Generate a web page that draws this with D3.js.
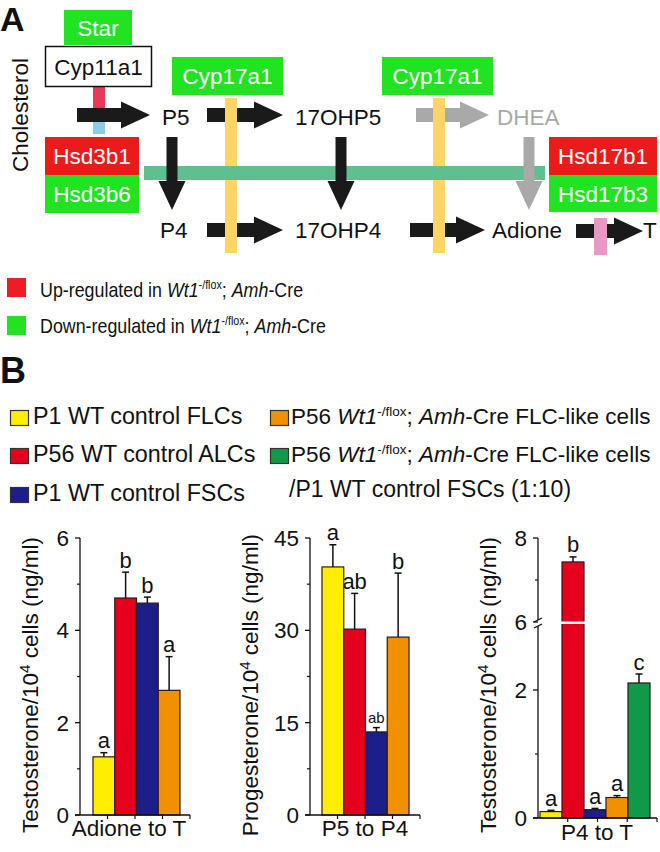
<!DOCTYPE html>
<html><head><meta charset="utf-8">
<script src="https://cdn.jsdelivr.net/npm/d3@7"></script>
<style>body{margin:0;background:#fff} svg{display:block}</style>
</head><body>
<svg id="c" width="660" height="852"></svg>
<script>
// ---------- DATA ----------
const groups = ["P1 WT control FLCs","P56 WT control ALCs","P1 WT control FSCs",
  "P56 Wt1-/flox; Amh-Cre FLC-like cells","P56 Wt1-/flox; Amh-Cre FLC-like cells /P1 WT control FSCs (1:10)"];
const groupColors = ["#ffee00","#e5001e","#1c1f8a","#f29100","#11994a"];

const adioneToT = [1.26, 4.70, 4.59, 2.70];
const adioneToTErr = [0.09, 0.56, 0.13, 0.73];
const adioneToTLetters = ["a","b","b","a"];

const p5ToP4 = [40.3, 30.2, 13.5, 28.9];
const p5ToP4Err = [3.6, 5.8, 0.7, 10.4];
const p5ToP4Letters = ["a","ab","ab","b"];

const p4ToT = [0.10, 7.43, 0.13, 0.32, 2.11];
const p4ToTErr = [0.02, 0.12, 0.02, 0.03, 0.14];
const p4ToTLetters = ["a","b","a","a","c"];

const ticksAdione = [0,2,4,6], minorAdione = [1,3,5];
const ticksP5 = [0,15,30,45], minorP5 = [7.5,22.5,37.5];
const ticksP4 = [0,2,6,8], minorP4 = [1,7];

const pathwayTop = ["P5","17OHP5","DHEA"];
const pathwayBottom = ["P4","17OHP4","Adione","T"];
const legendA = ["Up-regulated in ","Down-regulated in "];

// ---------- DRAW ----------
const svg = d3.select("#c");
const FONT = "Liberation Sans, Arial, Helvetica, sans-serif";
const FS = 22.5;
const GREEN = "#22e322", RED = "#ec1b1b";

function txt(x, y, s, opt = {}) {
  return svg.append("text").attr("x", x).attr("y", y).text(s)
    .attr("font-family", FONT).attr("font-size", opt.size || FS)
    .attr("fill", opt.fill || "#111").attr("text-anchor", opt.anchor || "start")
    .attr("font-weight", opt.weight || "normal");
}
function hArrow(x1, x2, y, color) {
  const sh = 7, hh = 13.5, hl = 29;
  svg.append("path").attr("d",
    `M${x1},${y-sh}L${x2-hl},${y-sh}L${x2-hl},${y-hh}L${x2},${y}L${x2-hl},${y+hh}L${x2-hl},${y+sh}L${x1},${y+sh}Z`)
    .attr("fill", color);
}
function vArrow(x, y1, y2, color) {
  const sh = 5.5, hh = 13.5, hl = 29;
  svg.append("path").attr("d",
    `M${x-sh},${y1}L${x-sh},${y2-hl}L${x-hh},${y2-hl}L${x},${y2}L${x+hh},${y2-hl}L${x+sh},${y2-hl}L${x+sh},${y1}Z`)
    .attr("fill", color);
}
function box(x, y, w, h, fill, label, color, stroke) {
  const r = svg.append("rect").attr("x", x).attr("y", y).attr("width", w).attr("height", h).attr("fill", fill);
  if (stroke) r.attr("stroke", stroke).attr("stroke-width", 1.5);
  txt(x + w / 2, y + h / 2 + 8, label, { fill: color, anchor: "middle" });
}

// Panel letters
txt(0, 31, "A", { size: 34, weight: "bold" });
txt(0, 383, "B", { size: 36, weight: "bold" });

// Cholesterol
svg.append("text").attr("transform", "translate(28,115) rotate(-90)")
  .attr("text-anchor", "middle").attr("font-family", FONT).attr("font-size", FS)
  .attr("fill", "#111").text("Cholesterol");

// red/blue small bar behind first arrow
svg.append("rect").attr("x", 93).attr("y", 87).attr("width", 12).attr("height", 26).attr("fill", "#e8395a");
svg.append("rect").attr("x", 93).attr("y", 113).attr("width", 12).attr("height", 21).attr("fill", "#8ccbea");

// horizontal arrows
hArrow(77, 150, 115, "#1a1a1a");
hArrow(207, 283, 115, "#1a1a1a");
hArrow(416, 489, 115, "#a9a9a9");
hArrow(207, 283, 230, "#1a1a1a");
hArrow(410, 485, 230, "#1a1a1a");
hArrow(576, 643, 231, "#1a1a1a");

// vertical enzyme bars
svg.append("rect").attr("x", 225).attr("y", 98).attr("width", 12).attr("height", 155).attr("fill", "#fdd46a");
svg.append("rect").attr("x", 433).attr("y", 98).attr("width", 12).attr("height", 155).attr("fill", "#fdd46a");
svg.append("rect").attr("x", 594).attr("y", 218).attr("width", 13).attr("height", 37).attr("fill", "#ec96c6");

// green horizontal bar
svg.append("rect").attr("x", 144).attr("y", 166).attr("width", 401).attr("height", 14).attr("fill", "#5fbf8e");

// vertical arrows
vArrow(172, 137, 210, "#1a1a1a");
vArrow(341, 137, 210, "#1a1a1a");
vArrow(529, 137, 210, "#a9a9a9");

// enzyme boxes
box(64, 10, 68, 35, GREEN, "Star", "#fff");
box(45.5, 46.5, 106, 40, "#fff", "Cyp11a1", "#111", "#111");
box(172, 57, 111, 38, GREEN, "Cyp17a1", "#fff");
box(382, 57, 111, 38, GREEN, "Cyp17a1", "#fff");
box(45, 137, 94, 38, RED, "Hsd3b1", "#fff");
box(45, 175, 94, 38, GREEN, "Hsd3b6", "#fff");
box(549, 137, 108, 38, RED, "Hsd17b1", "#fff");
box(549, 175, 108, 37, GREEN, "Hsd17b3", "#fff");

// pathway metabolites
const topX = [162, 295, 497], botX = [160, 295, 492, 643];
pathwayTop.forEach((s, i) => txt(topX[i], 125, s, { fill: s === "DHEA" ? "#a9a9a9" : "#111" }));
pathwayBottom.forEach((s, i) => txt(botX[i], 238, s));

// Wt1 genotype rich text
function genotype(t, prefix, size) {
  const sz = size || FS;
  t.append("tspan").text(prefix);
  t.append("tspan").attr("font-style", "italic").text("Wt1");
  t.append("tspan").attr("font-size", sz * 0.6).attr("dy", -8).text("-/flox");
  t.append("tspan").attr("dy", 8).text("; ");
  t.append("tspan").attr("font-style", "italic").text("Amh");
  t.append("tspan").text("-Cre");
  return t;
}
// Legend A (condensed text)
svg.append("rect").attr("x", 7).attr("y", 278).attr("width", 19).attr("height", 19).attr("fill", "#ee1c24");
svg.append("rect").attr("x", 7).attr("y", 316).attr("width", 19).attr("height", 19).attr("fill", GREEN);
function condensed(x, y) {
  return svg.append("text").attr("transform", `translate(${x},${y}) scale(0.85,1)`)
    .attr("font-family", FONT).attr("font-size", 21).attr("fill", "#111");
}
genotype(condensed(40, 297), legendA[0], 21);
genotype(condensed(40, 333), legendA[1], 21);

// Legend B
function swatch(x, y, c) {
  svg.append("rect").attr("x", x).attr("y", y).attr("width", 18).attr("height", 15)
    .attr("fill", c).attr("stroke", "#333").attr("stroke-width", 1.2);
}
swatch(10.5, 410.5, groupColors[0]); txt(33, 424, groups[0], { size: 23.3 });
swatch(10.5, 448.5, groupColors[1]); txt(33, 462, groups[1], { size: 23.3 });
swatch(10.5, 487.5, groupColors[2]); txt(33, 501, groups[2], { size: 23.3 });
swatch(270.5, 410.5, groupColors[3]);
genotype(txt(291, 424, ""), "P56 ").append("tspan").text(" FLC-like cells");
swatch(270.5, 448.5, groupColors[4]);
genotype(txt(291, 462, ""), "P56 ").append("tspan").text(" FLC-like cells");
txt(289, 497, "/P1 WT control FSCs (1:10)", { size: 23 });

// ---------- bar charts ----------
function chart(cfg) {
  const { axisX, axisEnd, y, band, values, errs, letters, major, minor, yLabel, xLabel, yLabelX, xLabelX, xLabelY, nXTicks, letterSize } = cfg;
  const y0 = y(0);
  const g = svg.append("g");
  values.forEach((v, i) => {
    g.append("rect").attr("x", band(i)).attr("y", y(v)).attr("width", band.bandwidth())
      .attr("height", y0 - y(v)).attr("fill", groupColors[i]).attr("stroke", "#2a1a1a").attr("stroke-width", 1.2);
    const cx = band(i) + band.bandwidth() / 2;
    const et = y(v + errs[i]);
    g.append("line").attr("x1", cx).attr("x2", cx).attr("y1", y(v)).attr("y2", et).attr("stroke", "#111").attr("stroke-width", 1.5);
    g.append("line").attr("x1", cx - 3.5).attr("x2", cx + 3.5).attr("y1", et).attr("y2", et).attr("stroke", "#111").attr("stroke-width", 1.5);
    const ls = (letterSize && letterSize[i]) || 22;
    txt(cx, et - 4.5, letters[i], { anchor: "middle", size: ls });
  });
  if (cfg.breakAt) {
    const [b1, b2] = cfg.breakAt;
    g.append("line").attr("x1", axisX).attr("x2", axisX).attr("y1", y(major[major.length - 1])).attr("y2", b1).attr("stroke", "#111").attr("stroke-width", 1.3);
    g.append("line").attr("x1", axisX).attr("x2", axisX).attr("y1", b2).attr("y2", y0).attr("stroke", "#111").attr("stroke-width", 1.3);
    [b1, b2].forEach(b => g.append("line").attr("x1", axisX - 4).attr("x2", axisX + 4).attr("y1", b + 2).attr("y2", b - 2).attr("stroke", "#111").attr("stroke-width", 1.3));
  } else {
    g.append("line").attr("x1", axisX).attr("x2", axisX).attr("y1", y(major[major.length - 1])).attr("y2", y0).attr("stroke", "#111").attr("stroke-width", 1.3);
  }
  major.forEach(t => {
    g.append("line").attr("x1", axisX - 5).attr("x2", axisX).attr("y1", y(t)).attr("y2", y(t)).attr("stroke", "#111").attr("stroke-width", 1.3);
    txt(axisX - 11, y(t) + 8, String(t), { anchor: "end" });
  });
  minor.forEach(t => {
    g.append("line").attr("x1", axisX - 3).attr("x2", axisX).attr("y1", y(t)).attr("y2", y(t)).attr("stroke", "#111").attr("stroke-width", 1.2);
  });
  g.append("line").attr("x1", axisX - 5).attr("x2", axisEnd).attr("y1", y0).attr("y2", y0).attr("stroke", "#111").attr("stroke-width", 1.3);
  const xt = d3.scaleLinear().domain([0, nXTicks]).range([axisX, axisEnd]);
  d3.range(1, nXTicks + 1).forEach(k => {
    g.append("line").attr("x1", xt(k)).attr("x2", xt(k)).attr("y1", y0).attr("y2", y0 + 4).attr("stroke", "#111").attr("stroke-width", 1.2);
  });
  const yl = svg.append("text").attr("transform", `translate(${yLabelX},685) rotate(-90)`)
    .attr("text-anchor", "middle").attr("font-family", FONT).attr("font-size", FS).attr("fill", "#111");
  yl.append("tspan").text(yLabel);
  yl.append("tspan").attr("font-size", 15).attr("dy", -8).text("4");
  yl.append("tspan").attr("dy", 8).text(" cells (ng/ml)");
  txt(xLabelX, xLabelY, xLabel, { anchor: "middle" });
}

const yA = d3.scaleLinear().domain([0, 6]).range([815, 538]);
chart({
  axisX: 80, axisEnd: 190, y: yA,
  band: d3.scaleBand().domain(d3.range(adioneToT.length)).range([93, 180]),
  values: adioneToT, errs: adioneToTErr, letters: adioneToTLetters,
  major: ticksAdione, minor: minorAdione, yLabel: "Testosterone/10", xLabel: "Adione to T",
  yLabelX: 38, xLabelX: 129, xLabelY: 836, nXTicks: 4
});

const yB = d3.scaleLinear().domain([0, 45]).range([815, 538]);
chart({
  axisX: 310, axisEnd: 420, y: yB,
  band: d3.scaleBand().domain(d3.range(p5ToP4.length)).range([322, 409]),
  values: p5ToP4, errs: p5ToP4Err, letters: p5ToP4Letters, letterSize: [22, 22, 15, 22],
  major: ticksP5, minor: minorP5, yLabel: "Progesterone/10", xLabel: "P5 to P4",
  yLabelX: 258, xLabelX: 365, xLabelY: 836, nXTicks: 4
});

const yC = d3.scaleLinear().domain([0, 3, 6, 8]).range([818, 626, 622, 538]);
chart({
  axisX: 538, axisEnd: 657, y: yC,
  band: d3.scaleBand().domain(d3.range(p4ToT.length)).range([540, 650]),
  values: p4ToT, errs: p4ToTErr, letters: p4ToTLetters,
  major: ticksP4, minor: minorP4, yLabel: "Testosterone/10", xLabel: "P4 to T",
  yLabelX: 496, xLabelX: 597, xLabelY: 840, nXTicks: 4, breakAt: [620, 626]
});
const bandC = d3.scaleBand().domain(d3.range(p4ToT.length)).range([540, 650]);
p4ToT.forEach((v, i) => {
  if (v > 6) svg.append("rect").attr("x", bandC(i) - 1).attr("y", yC(3) - 4.5).attr("width", bandC.bandwidth() + 2)
    .attr("height", 2.5).attr("fill", "#fff");
});
</script>
</body></html>
